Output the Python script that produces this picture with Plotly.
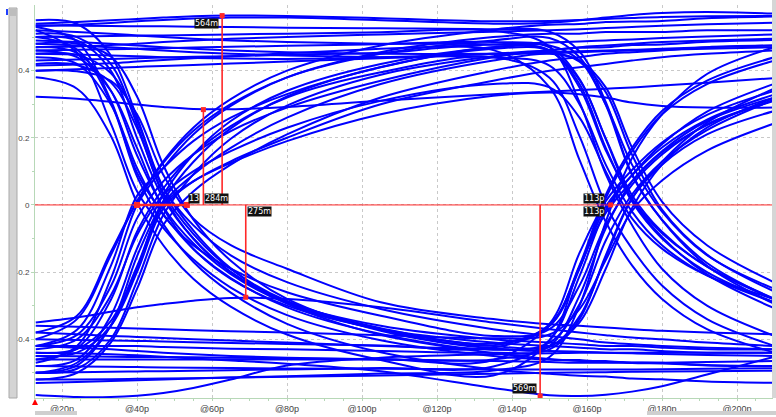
import plotly.graph_objects as go

# Sample instants (ps) shared by every captured waveform segment
t_ps = [13, 24, 33, 40, 47, 55, 65, 80, 105, 135, 150, 158, 165, 172, 180, 192, 210]

# Captured segments (V), grouped by the three-bit pattern they carry
hhh = [
    [0.540, 0.545, 0.550, 0.554, 0.558, 0.562, 0.564, 0.563, 0.556, 0.547, 0.548, 0.551, 0.554, 0.557, 0.560, 0.562, 0.563],
    [0.533, 0.537, 0.542, 0.547, 0.551, 0.555, 0.558, 0.558, 0.550, 0.540, 0.543, 0.550, 0.558, 0.566, 0.572, 0.575, 0.570],
    [0.470, 0.472, 0.476, 0.480, 0.485, 0.490, 0.495, 0.500, 0.508, 0.516, 0.520, 0.523, 0.527, 0.530, 0.534, 0.538, 0.543],
    [0.415, 0.418, 0.422, 0.427, 0.432, 0.437, 0.443, 0.452, 0.465, 0.478, 0.484, 0.487, 0.490, 0.493, 0.497, 0.502, 0.508],
    [0.322, 0.316, 0.307, 0.299, 0.292, 0.286, 0.285, 0.292, 0.310, 0.330, 0.338, 0.342, 0.346, 0.350, 0.356, 0.364, 0.378],
    [0.490, 0.485, 0.480, 0.475, 0.470, 0.465, 0.460, 0.455, 0.450, 0.450, 0.452, 0.455, 0.458, 0.460, 0.462, 0.465, 0.470],
    [0.450, 0.448, 0.445, 0.443, 0.440, 0.438, 0.436, 0.435, 0.440, 0.450, 0.455, 0.458, 0.460, 0.462, 0.465, 0.470, 0.475],
]
hhl = [
    [0.500, 0.502, 0.503, 0.504, 0.505, 0.506, 0.508, 0.510, 0.514, 0.519, 0.472, 0.306, 0.092, -0.060, -0.190, -0.300, -0.390],
    [0.460, 0.462, 0.464, 0.465, 0.467, 0.469, 0.471, 0.474, 0.479, 0.485, 0.469, 0.375, 0.196, 0.017, -0.095, -0.207, -0.308],
    [0.535, 0.534, 0.533, 0.532, 0.532, 0.531, 0.530, 0.528, 0.526, 0.523, 0.516, 0.457, 0.307, 0.092, -0.045, -0.181, -0.295],
    [0.400, 0.404, 0.408, 0.411, 0.414, 0.417, 0.421, 0.427, 0.437, 0.450, 0.456, 0.427, 0.336, 0.150, -0.014, -0.148, -0.258],
    [0.430, 0.433, 0.435, 0.437, 0.439, 0.441, 0.443, 0.447, 0.453, 0.461, 0.351, 0.134, -0.050, -0.180, -0.280, -0.370, -0.440],
    [0.480, 0.475, 0.470, 0.465, 0.460, 0.455, 0.450, 0.445, 0.440, 0.440, 0.415, 0.300, 0.120, -0.020, -0.120, -0.210, -0.290],
    [0.520, 0.515, 0.510, 0.505, 0.500, 0.495, 0.490, 0.485, 0.480, 0.478, 0.460, 0.360, 0.170, 0.010, -0.100, -0.200, -0.290],
]
lhh = [
    [-0.470, -0.420, -0.220, 0.000, 0.110, 0.210, 0.295, 0.380, 0.455, 0.500, 0.510, 0.510, 0.515, 0.515, 0.515, 0.520, 0.520],
    [-0.420, -0.387, -0.243, -0.040, 0.070, 0.150, 0.220, 0.290, 0.370, 0.440, 0.460, 0.470, 0.475, 0.480, 0.485, 0.490, 0.495],
    [-0.500, -0.488, -0.400, -0.227, -0.030, 0.091, 0.197, 0.296, 0.388, 0.443, 0.461, 0.468, 0.470, 0.476, 0.478, 0.486, 0.491],
    [-0.400, -0.340, -0.150, 0.010, 0.130, 0.230, 0.315, 0.400, 0.475, 0.522, 0.537, 0.539, 0.545, 0.546, 0.548, 0.556, 0.561],
    [-0.500, -0.470, -0.360, -0.190, 0.000, 0.070, 0.125, 0.190, 0.270, 0.325, 0.335, 0.330, 0.320, 0.305, 0.295, 0.290, 0.290],
    [-0.450, -0.440, -0.360, -0.200, -0.010, 0.070, 0.130, 0.200, 0.300, 0.370, 0.400, 0.410, 0.420, 0.430, 0.440, 0.450, 0.460],
    [-0.520, -0.500, -0.410, -0.250, -0.060, 0.040, 0.120, 0.210, 0.320, 0.400, 0.430, 0.440, 0.450, 0.455, 0.460, 0.470, 0.475],
]
lhl = [
    [-0.460, -0.427, -0.283, -0.080, 0.049, 0.151, 0.235, 0.320, 0.395, 0.440, 0.379, 0.205, 0.000, -0.130, -0.240, -0.340, -0.420],
    [-0.420, -0.372, -0.182, 0.027, 0.110, 0.190, 0.260, 0.330, 0.410, 0.470, 0.460, 0.350, 0.163, 0.018, -0.084, -0.183, -0.279],
    [-0.500, -0.478, -0.360, -0.153, 0.012, 0.128, 0.228, 0.323, 0.411, 0.465, 0.459, 0.372, 0.198, 0.029, -0.080, -0.184, -0.282],
    [-0.380, -0.330, -0.140, 0.010, 0.125, 0.220, 0.300, 0.380, 0.450, 0.490, 0.497, 0.440, 0.298, 0.089, -0.044, -0.173, -0.282],
    [-0.440, -0.429, -0.346, -0.183, 0.004, 0.090, 0.170, 0.260, 0.360, 0.430, 0.450, 0.430, 0.350, 0.171, 0.010, -0.120, -0.231],
    [-0.430, -0.400, -0.270, -0.090, 0.030, 0.100, 0.160, 0.230, 0.310, 0.360, 0.350, 0.260, 0.100, -0.040, -0.130, -0.210, -0.280],
    [-0.480, -0.460, -0.330, -0.130, 0.030, 0.150, 0.250, 0.340, 0.420, 0.470, 0.475, 0.430, 0.300, 0.120, -0.020, -0.150, -0.250],
]
lll = [
    [-0.566, -0.572, -0.572, -0.568, -0.560, -0.545, -0.520, -0.478, -0.455, -0.445, -0.442, -0.440, -0.440, -0.440, -0.440, -0.440, -0.440],
    [-0.440, -0.442, -0.445, -0.448, -0.452, -0.457, -0.463, -0.473, -0.495, -0.545, -0.567, -0.569, -0.565, -0.556, -0.540, -0.505, -0.452],
    [-0.480, -0.481, -0.482, -0.483, -0.484, -0.485, -0.486, -0.487, -0.488, -0.490, -0.490, -0.490, -0.490, -0.490, -0.489, -0.488, -0.486],
    [-0.520, -0.520, -0.519, -0.518, -0.517, -0.516, -0.514, -0.512, -0.508, -0.503, -0.500, -0.499, -0.498, -0.497, -0.496, -0.495, -0.494],
    [-0.350, -0.335, -0.318, -0.305, -0.295, -0.285, -0.277, -0.280, -0.305, -0.350, -0.370, -0.380, -0.388, -0.395, -0.400, -0.410, -0.420],
    [-0.420, -0.425, -0.430, -0.435, -0.440, -0.445, -0.450, -0.455, -0.460, -0.465, -0.468, -0.470, -0.470, -0.470, -0.470, -0.468, -0.465],
    [-0.380, -0.385, -0.390, -0.393, -0.396, -0.400, -0.404, -0.410, -0.420, -0.430, -0.435, -0.437, -0.440, -0.442, -0.444, -0.447, -0.450],
]
llh = [
    [-0.450, -0.451, -0.452, -0.453, -0.453, -0.454, -0.455, -0.457, -0.459, -0.462, -0.354, -0.143, 0.011, 0.104, 0.186, 0.268, 0.340],
    [-0.500, -0.498, -0.497, -0.496, -0.495, -0.494, -0.492, -0.490, -0.486, -0.481, -0.403, -0.212, -0.016, 0.089, 0.181, 0.278, 0.361],
    [-0.400, -0.402, -0.404, -0.405, -0.407, -0.409, -0.411, -0.414, -0.419, -0.425, -0.360, -0.180, 0.030, 0.170, 0.280, 0.370, 0.440],
    [-0.530, -0.527, -0.524, -0.522, -0.520, -0.517, -0.514, -0.510, -0.502, -0.493, -0.453, -0.300, -0.050, 0.140, 0.270, 0.390, 0.470],
    [-0.360, -0.363, -0.366, -0.368, -0.370, -0.373, -0.376, -0.380, -0.388, -0.397, -0.386, -0.310, -0.164, -0.018, 0.073, 0.162, 0.243],
    [-0.460, -0.460, -0.460, -0.460, -0.460, -0.460, -0.460, -0.460, -0.460, -0.460, -0.420, -0.270, -0.070, 0.070, 0.160, 0.250, 0.320],
    [-0.420, -0.420, -0.420, -0.420, -0.423, -0.425, -0.428, -0.430, -0.435, -0.440, -0.430, -0.340, -0.150, 0.020, 0.120, 0.210, 0.280],
]
hll = [
    [0.500, 0.463, 0.306, 0.085, -0.057, -0.169, -0.261, -0.354, -0.439, -0.490, -0.503, -0.509, -0.511, -0.517, -0.519, -0.526, -0.530],
    [0.550, 0.539, 0.446, 0.261, 0.052, -0.076, -0.189, -0.293, -0.387, -0.441, -0.459, -0.465, -0.465, -0.471, -0.472, -0.478, -0.480],
    [0.450, 0.447, 0.393, 0.252, 0.050, -0.060, -0.150, -0.230, -0.310, -0.370, -0.390, -0.400, -0.410, -0.415, -0.420, -0.425, -0.430],
    [0.400, 0.398, 0.370, 0.270, 0.090, -0.040, -0.120, -0.190, -0.290, -0.340, -0.355, -0.360, -0.365, -0.370, -0.375, -0.380, -0.385],
    [0.520, 0.454, 0.243, 0.041, -0.068, -0.162, -0.246, -0.328, -0.403, -0.450, -0.461, -0.462, -0.468, -0.469, -0.470, -0.477, -0.480],
    [0.460, 0.440, 0.340, 0.170, -0.010, -0.130, -0.220, -0.300, -0.370, -0.410, -0.420, -0.425, -0.430, -0.430, -0.435, -0.440, -0.440],
    [0.510, 0.500, 0.420, 0.240, 0.030, -0.100, -0.200, -0.290, -0.360, -0.400, -0.410, -0.415, -0.420, -0.420, -0.425, -0.430, -0.430],
]
hlh = [
    [0.470, 0.452, 0.341, 0.148, -0.006, -0.114, -0.206, -0.294, -0.372, -0.418, -0.357, -0.186, -0.005, 0.088, 0.171, 0.254, 0.329],
    [0.530, 0.487, 0.312, 0.096, -0.027, -0.131, -0.218, -0.305, -0.384, -0.431, -0.410, -0.296, -0.106, 0.031, 0.129, 0.223, 0.314],
    [0.420, 0.417, 0.365, 0.229, 0.036, -0.086, -0.191, -0.286, -0.367, -0.413, -0.360, -0.190, 0.020, 0.160, 0.270, 0.360, 0.430],
    [0.480, 0.480, 0.442, 0.323, 0.119, -0.043, -0.166, -0.280, -0.375, -0.427, -0.423, -0.332, -0.156, 0.019, 0.129, 0.245, 0.347],
    [0.380, 0.346, 0.206, 0.007, -0.120, -0.220, -0.303, -0.386, -0.462, -0.508, -0.403, -0.184, -0.024, 0.070, 0.157, 0.238, 0.313],
    [0.440, 0.420, 0.300, 0.110, -0.030, -0.120, -0.190, -0.260, -0.330, -0.390, -0.370, -0.240, -0.060, 0.060, 0.150, 0.240, 0.310],
    [0.500, 0.490, 0.400, 0.200, 0.020, -0.100, -0.200, -0.290, -0.370, -0.420, -0.420, -0.350, -0.190, -0.010, 0.120, 0.230, 0.320],
]

# Cursor measurements: time (ps) and level (V)
cursor_t = [62.7, 57.7, 69.0, 147.5]
cursor_v = [0.564, 0.284, -0.275, -0.569]
# Eye crossing markers on the 0 V threshold (ps)
cross_t = [40.0, 53.3, 166.3]

# Axis ticks
x_ticks = [20, 40, 60, 80, 100, 120, 140, 160, 180, 200]
x_labels = ["@20p", "@40p", "@60p", "@80p", "@100p", "@120p", "@140p", "@160p", "@180p", "@200p"]
y_ticks = [-0.4, -0.2, 0, 0.2, 0.4]
y_labels = ["-0.4", "-0.2", "0", "0.2", "0.4"]

RED = "rgb(255,40,40)"
TRACE = "#0000ff"
AXIS_GREEN = "#b7d8b7"
FONT = "Liberation Sans"

fig = go.Figure()

for group in (hhh, hhl, lhh, lhl, lll, llh, hll, hlh):
    for seg in group:
        fig.add_trace(go.Scatter(
            x=t_ps, y=seg, mode="lines",
            line=dict(color=TRACE, width=2, shape="spline", smoothing=1.0),
            hoverinfo="skip", showlegend=False))

# 0 V threshold line
fig.add_shape(type="line", xref="paper", x0=0, x1=1, yref="y", y0=0, y1=0,
              line=dict(color=RED, width=1))

# crossing spread segment with its end markers, and eye-width marker
fig.add_trace(go.Scatter(x=cross_t[:2], y=[0, 0], mode="lines+markers",
                         line=dict(color=RED, width=2.5),
                         marker=dict(symbol="square", size=6, color=RED),
                         hoverinfo="skip", showlegend=False))
fig.add_trace(go.Scatter(x=[cross_t[2]], y=[0], mode="markers",
                         marker=dict(symbol="square", size=5, color=RED),
                         hoverinfo="skip", showlegend=False))

# level cursors from the threshold to the measured value
for ct, cv in zip(cursor_t, cursor_v):
    fig.add_trace(go.Scatter(x=[ct, ct], y=[0, cv], mode="lines",
                             line=dict(color=RED, width=1.6),
                             hoverinfo="skip", showlegend=False))
    fig.add_trace(go.Scatter(x=[ct], y=[cv], mode="markers",
                             marker=dict(symbol="square", size=5, color=RED),
                             hoverinfo="skip", showlegend=False))

label_style = dict(showarrow=False, bgcolor="#111111", borderpad=0,
                   font=dict(family="DejaVu Sans", size=8, color="white"))


def mv(v):
    return f"{abs(v) * 1000:.0f}m"


jitter = cross_t[1] - cross_t[0]
eye_width = cross_t[2] - cross_t[1]

annotations = [
    dict(x=cross_t[1], y=0, xanchor="left", yanchor="bottom", xshift=1, yshift=1,
         text=f"{jitter:.0f}", **label_style),
    dict(x=cursor_t[0], y=cursor_v[0], xanchor="right", yanchor="top", xshift=-3, yshift=-2,
         text=mv(cursor_v[0]), **label_style),
    dict(x=cursor_t[1], y=0, xanchor="left", yanchor="bottom", xshift=1, yshift=1,
         text=mv(cursor_v[1]), **label_style),
    dict(x=cursor_t[2], y=0, xanchor="left", yanchor="top", xshift=1, yshift=-1,
         text=mv(cursor_v[2]), **label_style),
    dict(x=cursor_t[3], y=cursor_v[3], xanchor="right", yanchor="bottom", xshift=-3, yshift=2,
         text=mv(cursor_v[3]), **label_style),
    dict(x=cross_t[2], y=0, xanchor="right", yanchor="bottom", xshift=-6, yshift=1,
         text=f"{eye_width:.0f}p", **label_style),
    dict(x=cross_t[2], y=0, xanchor="right", yanchor="top", xshift=-6, yshift=-1,
         text=f"{eye_width:.0f}p", **label_style),
]

# window chrome: scrollbars and small indicators around the plot
px_l, px_r, px_t, px_b = 35, 773, 5, 400


def px_x(p):
    return (p - px_l) / (px_r - px_l)


def px_y(p):
    return (px_b - p) / (px_b - px_t)


chrome = [
    dict(type="rect", xref="paper", yref="paper", x0=px_x(9), x1=px_x(17), y0=px_y(400), y1=px_y(8),
         fillcolor="#d4d4d4", line=dict(color="#a9a9a9", width=1), layer="above"),
    dict(type="rect", xref="paper", yref="paper", x0=px_x(10), x1=px_x(16), y0=px_y(16), y1=px_y(9),
         fillcolor="#bdbdbd", line=dict(width=0), layer="above"),
    dict(type="rect", xref="paper", yref="paper", x0=px_x(6), x1=px_x(8), y0=px_y(15), y1=px_y(9),
         fillcolor="#1f3fff", line=dict(width=0), layer="above"),
    dict(type="rect", xref="paper", yref="paper", x0=px_x(35), x1=px_x(77), y0=px_y(417), y1=px_y(413),
         fillcolor="#cfcfcf", line=dict(width=0), layer="above"),
    dict(type="rect", xref="paper", yref="paper", x0=px_x(647), x1=px_x(776), y0=px_y(417), y1=px_y(413),
         fillcolor="#cfcfcf", line=dict(width=0), layer="above"),
    dict(type="rect", xref="paper", yref="paper", x0=px_x(772), x1=px_x(776), y0=px_y(400), y1=px_y(0),
         fillcolor="#d6d6d6", line=dict(width=0), layer="above"),
    dict(type="path", xref="paper", yref="paper",
         path=f"M {px_x(35)},{px_y(401)} L {px_x(38)},{px_y(407)} L {px_x(32)},{px_y(407)} Z",
         fillcolor="red", line=dict(width=0), layer="above"),
]

fig.update_layout(
    width=776, height=417,
    margin=dict(l=px_l, r=776 - px_r, t=px_t, b=417 - px_b),
    paper_bgcolor="white", plot_bgcolor="white",
    showlegend=False,
    annotations=annotations,
    shapes=list(fig.layout.shapes) + chrome,
    xaxis=dict(
        range=[12.8, 209.6], tickvals=x_ticks, ticktext=x_labels,
        showgrid=True, gridcolor="#c9c9c9", griddash="dot", gridwidth=1,
        zeroline=False, showline=True, linecolor=AXIS_GREEN, linewidth=1,
        ticks="outside", ticklen=2, tickcolor=AXIS_GREEN,
        minor=dict(tick0=0, dtick=5, ticks="outside", ticklen=2, tickcolor=AXIS_GREEN, showgrid=False),
        tickfont=dict(family=FONT, size=9, color="#444444"),
        fixedrange=True,
    ),
    yaxis=dict(
        range=[-0.575, 0.5955], tickvals=y_ticks, ticktext=y_labels,
        showgrid=True, gridcolor="#c9c9c9", griddash="dot", gridwidth=1,
        zeroline=False, showline=True, linecolor=AXIS_GREEN, linewidth=1,
        ticks="outside", ticklen=3, tickcolor=AXIS_GREEN,
        minor=dict(tick0=0, dtick=0.1, ticks="outside", ticklen=2, tickcolor=AXIS_GREEN, showgrid=False),
        tickfont=dict(family=FONT, size=8, color="#444444"),
        fixedrange=True,
    ),
)

fig.write_html("out.html")
